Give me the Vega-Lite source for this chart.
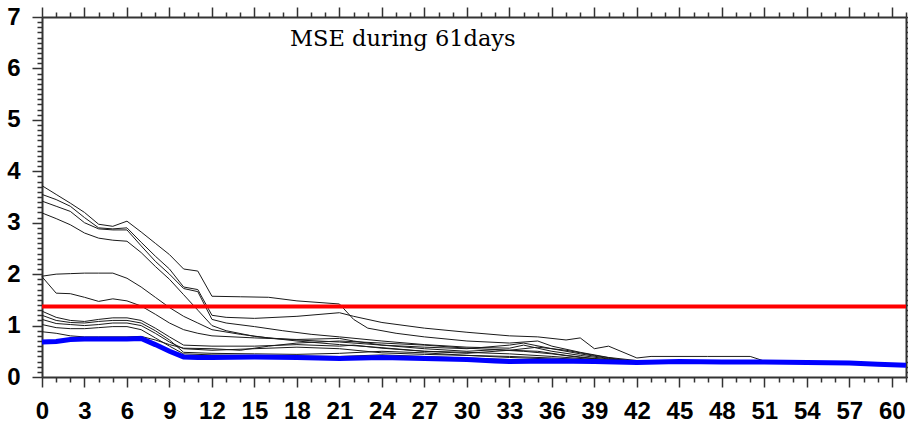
{
  "$schema": "https://vega.github.io/schema/vega-lite/v6.json",
  "width": 864,
  "height": 360,
  "autosize": "none",
  "padding": {"left": 42, "top": 17, "right": 2, "bottom": 49},
  "background": "white",
  "config": {
    "view": {"stroke": null},
    "axis": {
      "grid": false,
      "domainColor": "#333333",
      "domainWidth": 2,
      "tickColor": "#333333",
      "tickWidth": 1.5,
      "labelFont": "Liberation Sans",
      "labelFontWeight": "bold",
      "labelFontSize": 24,
      "labelColor": "#000000",
      "labelOverlap": false,
      "labelFlush": false,
      "labelBound": false,
      "title": null
    }
  },
  "title": {
    "text": "MSE during 61days",
    "font": "DejaVu Serif",
    "fontSize": 22.5,
    "fontWeight": "normal",
    "color": "#000000",
    "anchor": "start",
    "frame": "group",
    "orient": "top",
    "baseline": "alphabetic",
    "dx": 248,
    "offset": -63
  },
  "datasets": {
    "runs": [
      {"run": "r01", "day": 0, "mse": 3.72}, {"run": "r01", "day": 1, "mse": 3.55}, {"run": "r01", "day": 2, "mse": 3.38}, {"run": "r01", "day": 3, "mse": 3.2}, {"run": "r01", "day": 4, "mse": 2.97}, {"run": "r01", "day": 5, "mse": 2.93}, {"run": "r01", "day": 6, "mse": 3.03}, {"run": "r01", "day": 7, "mse": 2.82}, {"run": "r01", "day": 8, "mse": 2.6}, {"run": "r01", "day": 9, "mse": 2.38}, {"run": "r01", "day": 10, "mse": 2.1}, {"run": "r01", "day": 11, "mse": 2.06}, {"run": "r01", "day": 12, "mse": 1.57}, {"run": "r01", "day": 14, "mse": 1.56}, {"run": "r01", "day": 16, "mse": 1.55}, {"run": "r01", "day": 18, "mse": 1.48}, {"run": "r01", "day": 21, "mse": 1.42}, {"run": "r01", "day": 22, "mse": 1.12}, {"run": "r01", "day": 23, "mse": 0.95}, {"run": "r01", "day": 25, "mse": 0.85}, {"run": "r01", "day": 27, "mse": 0.78}, {"run": "r01", "day": 30, "mse": 0.7}, {"run": "r01", "day": 33, "mse": 0.66}, {"run": "r01", "day": 35, "mse": 0.7}, {"run": "r01", "day": 36, "mse": 0.6}, {"run": "r01", "day": 38, "mse": 0.48}, {"run": "r01", "day": 40, "mse": 0.38}, {"run": "r01", "day": 42, "mse": 0.32}, {"run": "r01", "day": 45, "mse": 0.31}, {"run": "r01", "day": 48, "mse": 0.3}, {"run": "r01", "day": 51, "mse": 0.3}, {"run": "r01", "day": 54, "mse": 0.29}, {"run": "r01", "day": 57, "mse": 0.28}, {"run": "r01", "day": 60, "mse": 0.25}, {"run": "r01", "day": 61, "mse": 0.24},

      {"run": "r02", "day": 0, "mse": 3.55}, {"run": "r02", "day": 1, "mse": 3.45}, {"run": "r02", "day": 2, "mse": 3.32}, {"run": "r02", "day": 3, "mse": 3.1}, {"run": "r02", "day": 4, "mse": 2.9}, {"run": "r02", "day": 5, "mse": 2.88}, {"run": "r02", "day": 6, "mse": 2.9}, {"run": "r02", "day": 7, "mse": 2.62}, {"run": "r02", "day": 8, "mse": 2.35}, {"run": "r02", "day": 9, "mse": 2.1}, {"run": "r02", "day": 10, "mse": 1.75}, {"run": "r02", "day": 11, "mse": 1.7}, {"run": "r02", "day": 12, "mse": 1.2}, {"run": "r02", "day": 13, "mse": 1.16}, {"run": "r02", "day": 15, "mse": 1.14}, {"run": "r02", "day": 18, "mse": 1.18}, {"run": "r02", "day": 21, "mse": 1.25}, {"run": "r02", "day": 22, "mse": 1.18}, {"run": "r02", "day": 24, "mse": 1.06}, {"run": "r02", "day": 27, "mse": 0.95}, {"run": "r02", "day": 30, "mse": 0.87}, {"run": "r02", "day": 33, "mse": 0.8}, {"run": "r02", "day": 35, "mse": 0.78}, {"run": "r02", "day": 37, "mse": 0.72}, {"run": "r02", "day": 38, "mse": 0.76}, {"run": "r02", "day": 39, "mse": 0.55}, {"run": "r02", "day": 40, "mse": 0.6}, {"run": "r02", "day": 42, "mse": 0.37}, {"run": "r02", "day": 43, "mse": 0.4}, {"run": "r02", "day": 47, "mse": 0.4}, {"run": "r02", "day": 50, "mse": 0.4}, {"run": "r02", "day": 51, "mse": 0.31}, {"run": "r02", "day": 54, "mse": 0.29}, {"run": "r02", "day": 57, "mse": 0.28}, {"run": "r02", "day": 60, "mse": 0.25}, {"run": "r02", "day": 61, "mse": 0.24},

      {"run": "r03", "day": 0, "mse": 3.42}, {"run": "r03", "day": 1, "mse": 3.32}, {"run": "r03", "day": 2, "mse": 3.22}, {"run": "r03", "day": 3, "mse": 3.0}, {"run": "r03", "day": 4, "mse": 2.88}, {"run": "r03", "day": 5, "mse": 2.86}, {"run": "r03", "day": 6, "mse": 2.86}, {"run": "r03", "day": 7, "mse": 2.55}, {"run": "r03", "day": 8, "mse": 2.25}, {"run": "r03", "day": 9, "mse": 2.0}, {"run": "r03", "day": 10, "mse": 1.72}, {"run": "r03", "day": 11, "mse": 1.66}, {"run": "r03", "day": 12, "mse": 1.12}, {"run": "r03", "day": 13, "mse": 1.05}, {"run": "r03", "day": 15, "mse": 0.98}, {"run": "r03", "day": 17, "mse": 0.9}, {"run": "r03", "day": 19, "mse": 0.83}, {"run": "r03", "day": 21, "mse": 0.78}, {"run": "r03", "day": 24, "mse": 0.7}, {"run": "r03", "day": 27, "mse": 0.63}, {"run": "r03", "day": 30, "mse": 0.58}, {"run": "r03", "day": 33, "mse": 0.56}, {"run": "r03", "day": 34, "mse": 0.62}, {"run": "r03", "day": 36, "mse": 0.5}, {"run": "r03", "day": 38, "mse": 0.42}, {"run": "r03", "day": 40, "mse": 0.35}, {"run": "r03", "day": 42, "mse": 0.31}, {"run": "r03", "day": 45, "mse": 0.31}, {"run": "r03", "day": 48, "mse": 0.3}, {"run": "r03", "day": 51, "mse": 0.3}, {"run": "r03", "day": 54, "mse": 0.29}, {"run": "r03", "day": 57, "mse": 0.28}, {"run": "r03", "day": 60, "mse": 0.25}, {"run": "r03", "day": 61, "mse": 0.24},

      {"run": "r04", "day": 0, "mse": 3.19}, {"run": "r04", "day": 1, "mse": 3.08}, {"run": "r04", "day": 2, "mse": 2.96}, {"run": "r04", "day": 3, "mse": 2.8}, {"run": "r04", "day": 4, "mse": 2.7}, {"run": "r04", "day": 5, "mse": 2.66}, {"run": "r04", "day": 6, "mse": 2.64}, {"run": "r04", "day": 7, "mse": 2.42}, {"run": "r04", "day": 8, "mse": 2.15}, {"run": "r04", "day": 9, "mse": 1.9}, {"run": "r04", "day": 10, "mse": 1.6}, {"run": "r04", "day": 11, "mse": 1.3}, {"run": "r04", "day": 12, "mse": 1.0}, {"run": "r04", "day": 13, "mse": 0.9}, {"run": "r04", "day": 15, "mse": 0.79}, {"run": "r04", "day": 18, "mse": 0.7}, {"run": "r04", "day": 21, "mse": 0.63}, {"run": "r04", "day": 24, "mse": 0.57}, {"run": "r04", "day": 27, "mse": 0.5}, {"run": "r04", "day": 30, "mse": 0.48}, {"run": "r04", "day": 33, "mse": 0.45}, {"run": "r04", "day": 36, "mse": 0.4}, {"run": "r04", "day": 39, "mse": 0.34}, {"run": "r04", "day": 42, "mse": 0.3}, {"run": "r04", "day": 45, "mse": 0.31}, {"run": "r04", "day": 48, "mse": 0.3}, {"run": "r04", "day": 51, "mse": 0.3}, {"run": "r04", "day": 54, "mse": 0.29}, {"run": "r04", "day": 57, "mse": 0.28}, {"run": "r04", "day": 60, "mse": 0.25}, {"run": "r04", "day": 61, "mse": 0.24},

      {"run": "r05", "day": 0, "mse": 1.96}, {"run": "r05", "day": 1, "mse": 2.0}, {"run": "r05", "day": 2, "mse": 2.01}, {"run": "r05", "day": 3, "mse": 2.02}, {"run": "r05", "day": 4, "mse": 2.02}, {"run": "r05", "day": 5, "mse": 2.02}, {"run": "r05", "day": 6, "mse": 1.92}, {"run": "r05", "day": 7, "mse": 1.75}, {"run": "r05", "day": 8, "mse": 1.55}, {"run": "r05", "day": 9, "mse": 1.35}, {"run": "r05", "day": 10, "mse": 1.18}, {"run": "r05", "day": 11, "mse": 1.05}, {"run": "r05", "day": 12, "mse": 0.92}, {"run": "r05", "day": 14, "mse": 0.83}, {"run": "r05", "day": 16, "mse": 0.76}, {"run": "r05", "day": 18, "mse": 0.72}, {"run": "r05", "day": 21, "mse": 0.68}, {"run": "r05", "day": 24, "mse": 0.62}, {"run": "r05", "day": 27, "mse": 0.58}, {"run": "r05", "day": 30, "mse": 0.55}, {"run": "r05", "day": 33, "mse": 0.62}, {"run": "r05", "day": 34, "mse": 0.66}, {"run": "r05", "day": 36, "mse": 0.55}, {"run": "r05", "day": 38, "mse": 0.45}, {"run": "r05", "day": 40, "mse": 0.36}, {"run": "r05", "day": 42, "mse": 0.3}, {"run": "r05", "day": 45, "mse": 0.31}, {"run": "r05", "day": 48, "mse": 0.3}, {"run": "r05", "day": 51, "mse": 0.3}, {"run": "r05", "day": 54, "mse": 0.29}, {"run": "r05", "day": 57, "mse": 0.28}, {"run": "r05", "day": 60, "mse": 0.25}, {"run": "r05", "day": 61, "mse": 0.24},

      {"run": "r06", "day": 0, "mse": 1.95}, {"run": "r06", "day": 1, "mse": 1.63}, {"run": "r06", "day": 2, "mse": 1.62}, {"run": "r06", "day": 3, "mse": 1.55}, {"run": "r06", "day": 4, "mse": 1.47}, {"run": "r06", "day": 5, "mse": 1.52}, {"run": "r06", "day": 6, "mse": 1.48}, {"run": "r06", "day": 7, "mse": 1.38}, {"run": "r06", "day": 8, "mse": 1.22}, {"run": "r06", "day": 9, "mse": 1.05}, {"run": "r06", "day": 10, "mse": 0.92}, {"run": "r06", "day": 11, "mse": 0.85}, {"run": "r06", "day": 12, "mse": 0.8}, {"run": "r06", "day": 15, "mse": 0.76}, {"run": "r06", "day": 18, "mse": 0.73}, {"run": "r06", "day": 21, "mse": 0.75}, {"run": "r06", "day": 22, "mse": 0.7}, {"run": "r06", "day": 24, "mse": 0.62}, {"run": "r06", "day": 27, "mse": 0.55}, {"run": "r06", "day": 30, "mse": 0.5}, {"run": "r06", "day": 32, "mse": 0.53}, {"run": "r06", "day": 34, "mse": 0.5}, {"run": "r06", "day": 36, "mse": 0.45}, {"run": "r06", "day": 38, "mse": 0.38}, {"run": "r06", "day": 40, "mse": 0.33}, {"run": "r06", "day": 42, "mse": 0.3}, {"run": "r06", "day": 45, "mse": 0.31}, {"run": "r06", "day": 48, "mse": 0.3}, {"run": "r06", "day": 51, "mse": 0.3}, {"run": "r06", "day": 54, "mse": 0.29}, {"run": "r06", "day": 57, "mse": 0.28}, {"run": "r06", "day": 60, "mse": 0.25}, {"run": "r06", "day": 61, "mse": 0.24},

      {"run": "r07", "day": 0, "mse": 1.28}, {"run": "r07", "day": 1, "mse": 1.16}, {"run": "r07", "day": 2, "mse": 1.1}, {"run": "r07", "day": 3, "mse": 1.08}, {"run": "r07", "day": 4, "mse": 1.12}, {"run": "r07", "day": 5, "mse": 1.15}, {"run": "r07", "day": 6, "mse": 1.15}, {"run": "r07", "day": 7, "mse": 1.1}, {"run": "r07", "day": 8, "mse": 0.95}, {"run": "r07", "day": 9, "mse": 0.78}, {"run": "r07", "day": 10, "mse": 0.62}, {"run": "r07", "day": 12, "mse": 0.6}, {"run": "r07", "day": 15, "mse": 0.6}, {"run": "r07", "day": 18, "mse": 0.63}, {"run": "r07", "day": 21, "mse": 0.6}, {"run": "r07", "day": 22, "mse": 0.62}, {"run": "r07", "day": 24, "mse": 0.56}, {"run": "r07", "day": 27, "mse": 0.5}, {"run": "r07", "day": 30, "mse": 0.46}, {"run": "r07", "day": 33, "mse": 0.52}, {"run": "r07", "day": 35, "mse": 0.5}, {"run": "r07", "day": 37, "mse": 0.42}, {"run": "r07", "day": 39, "mse": 0.36}, {"run": "r07", "day": 42, "mse": 0.3}, {"run": "r07", "day": 45, "mse": 0.31}, {"run": "r07", "day": 48, "mse": 0.3}, {"run": "r07", "day": 51, "mse": 0.3}, {"run": "r07", "day": 54, "mse": 0.29}, {"run": "r07", "day": 57, "mse": 0.28}, {"run": "r07", "day": 60, "mse": 0.25}, {"run": "r07", "day": 61, "mse": 0.24},

      {"run": "r08", "day": 0, "mse": 1.2}, {"run": "r08", "day": 1, "mse": 1.1}, {"run": "r08", "day": 2, "mse": 1.06}, {"run": "r08", "day": 3, "mse": 1.05}, {"run": "r08", "day": 4, "mse": 1.08}, {"run": "r08", "day": 5, "mse": 1.1}, {"run": "r08", "day": 6, "mse": 1.1}, {"run": "r08", "day": 7, "mse": 1.05}, {"run": "r08", "day": 8, "mse": 0.9}, {"run": "r08", "day": 9, "mse": 0.72}, {"run": "r08", "day": 10, "mse": 0.48}, {"run": "r08", "day": 12, "mse": 0.46}, {"run": "r08", "day": 15, "mse": 0.45}, {"run": "r08", "day": 18, "mse": 0.44}, {"run": "r08", "day": 21, "mse": 0.46}, {"run": "r08", "day": 24, "mse": 0.5}, {"run": "r08", "day": 27, "mse": 0.47}, {"run": "r08", "day": 30, "mse": 0.42}, {"run": "r08", "day": 33, "mse": 0.4}, {"run": "r08", "day": 36, "mse": 0.37}, {"run": "r08", "day": 39, "mse": 0.33}, {"run": "r08", "day": 42, "mse": 0.29}, {"run": "r08", "day": 45, "mse": 0.31}, {"run": "r08", "day": 48, "mse": 0.3}, {"run": "r08", "day": 51, "mse": 0.3}, {"run": "r08", "day": 54, "mse": 0.29}, {"run": "r08", "day": 57, "mse": 0.28}, {"run": "r08", "day": 60, "mse": 0.25}, {"run": "r08", "day": 61, "mse": 0.24},

      {"run": "r09", "day": 0, "mse": 1.12}, {"run": "r09", "day": 1, "mse": 1.04}, {"run": "r09", "day": 2, "mse": 1.02}, {"run": "r09", "day": 3, "mse": 1.0}, {"run": "r09", "day": 4, "mse": 1.02}, {"run": "r09", "day": 5, "mse": 1.05}, {"run": "r09", "day": 6, "mse": 1.05}, {"run": "r09", "day": 7, "mse": 1.0}, {"run": "r09", "day": 8, "mse": 0.85}, {"run": "r09", "day": 9, "mse": 0.68}, {"run": "r09", "day": 10, "mse": 0.55}, {"run": "r09", "day": 12, "mse": 0.52}, {"run": "r09", "day": 15, "mse": 0.55}, {"run": "r09", "day": 18, "mse": 0.58}, {"run": "r09", "day": 21, "mse": 0.55}, {"run": "r09", "day": 24, "mse": 0.47}, {"run": "r09", "day": 27, "mse": 0.44}, {"run": "r09", "day": 30, "mse": 0.42}, {"run": "r09", "day": 33, "mse": 0.38}, {"run": "r09", "day": 36, "mse": 0.35}, {"run": "r09", "day": 39, "mse": 0.31}, {"run": "r09", "day": 42, "mse": 0.29}, {"run": "r09", "day": 45, "mse": 0.31}, {"run": "r09", "day": 48, "mse": 0.3}, {"run": "r09", "day": 51, "mse": 0.3}, {"run": "r09", "day": 54, "mse": 0.29}, {"run": "r09", "day": 57, "mse": 0.28}, {"run": "r09", "day": 60, "mse": 0.25}, {"run": "r09", "day": 61, "mse": 0.24},

      {"run": "r10", "day": 0, "mse": 1.02}, {"run": "r10", "day": 1, "mse": 0.96}, {"run": "r10", "day": 2, "mse": 0.94}, {"run": "r10", "day": 3, "mse": 0.94}, {"run": "r10", "day": 4, "mse": 0.96}, {"run": "r10", "day": 5, "mse": 0.98}, {"run": "r10", "day": 6, "mse": 0.98}, {"run": "r10", "day": 7, "mse": 0.92}, {"run": "r10", "day": 8, "mse": 0.76}, {"run": "r10", "day": 9, "mse": 0.6}, {"run": "r10", "day": 10, "mse": 0.45}, {"run": "r10", "day": 12, "mse": 0.43}, {"run": "r10", "day": 15, "mse": 0.42}, {"run": "r10", "day": 18, "mse": 0.41}, {"run": "r10", "day": 21, "mse": 0.4}, {"run": "r10", "day": 24, "mse": 0.43}, {"run": "r10", "day": 27, "mse": 0.4}, {"run": "r10", "day": 30, "mse": 0.37}, {"run": "r10", "day": 33, "mse": 0.34}, {"run": "r10", "day": 36, "mse": 0.32}, {"run": "r10", "day": 39, "mse": 0.3}, {"run": "r10", "day": 42, "mse": 0.29}, {"run": "r10", "day": 45, "mse": 0.31}, {"run": "r10", "day": 48, "mse": 0.3}, {"run": "r10", "day": 51, "mse": 0.3}, {"run": "r10", "day": 54, "mse": 0.29}, {"run": "r10", "day": 57, "mse": 0.28}, {"run": "r10", "day": 60, "mse": 0.25}, {"run": "r10", "day": 61, "mse": 0.24},

      {"run": "r11", "day": 0, "mse": 0.88}, {"run": "r11", "day": 1, "mse": 0.85}, {"run": "r11", "day": 2, "mse": 0.8}, {"run": "r11", "day": 3, "mse": 0.78}, {"run": "r11", "day": 4, "mse": 0.78}, {"run": "r11", "day": 6, "mse": 0.78}, {"run": "r11", "day": 7, "mse": 0.79}, {"run": "r11", "day": 8, "mse": 0.72}, {"run": "r11", "day": 9, "mse": 0.63}, {"run": "r11", "day": 10, "mse": 0.56}, {"run": "r11", "day": 12, "mse": 0.55}, {"run": "r11", "day": 14, "mse": 0.52}, {"run": "r11", "day": 16, "mse": 0.6}, {"run": "r11", "day": 18, "mse": 0.66}, {"run": "r11", "day": 21, "mse": 0.7}, {"run": "r11", "day": 24, "mse": 0.66}, {"run": "r11", "day": 27, "mse": 0.62}, {"run": "r11", "day": 30, "mse": 0.56}, {"run": "r11", "day": 33, "mse": 0.52}, {"run": "r11", "day": 35, "mse": 0.58}, {"run": "r11", "day": 37, "mse": 0.52}, {"run": "r11", "day": 39, "mse": 0.42}, {"run": "r11", "day": 41, "mse": 0.33}, {"run": "r11", "day": 42, "mse": 0.3}, {"run": "r11", "day": 45, "mse": 0.31}, {"run": "r11", "day": 48, "mse": 0.3}, {"run": "r11", "day": 51, "mse": 0.3}, {"run": "r11", "day": 54, "mse": 0.29}, {"run": "r11", "day": 57, "mse": 0.28}, {"run": "r11", "day": 60, "mse": 0.25}, {"run": "r11", "day": 61, "mse": 0.24}
    ],
    "best": [
      {"day": 0, "mse": 0.68}, {"day": 1, "mse": 0.69}, {"day": 2, "mse": 0.73}, {"day": 3, "mse": 0.74}, {"day": 4, "mse": 0.74}, {"day": 5, "mse": 0.74}, {"day": 6, "mse": 0.74}, {"day": 7, "mse": 0.75}, {"day": 8, "mse": 0.63}, {"day": 9, "mse": 0.5}, {"day": 10, "mse": 0.39}, {"day": 11, "mse": 0.38}, {"day": 12, "mse": 0.38}, {"day": 15, "mse": 0.39}, {"day": 18, "mse": 0.38}, {"day": 21, "mse": 0.36}, {"day": 24, "mse": 0.38}, {"day": 27, "mse": 0.36}, {"day": 30, "mse": 0.34}, {"day": 32, "mse": 0.31}, {"day": 33, "mse": 0.3}, {"day": 36, "mse": 0.31}, {"day": 39, "mse": 0.3}, {"day": 42, "mse": 0.28}, {"day": 45, "mse": 0.3}, {"day": 48, "mse": 0.29}, {"day": 51, "mse": 0.29}, {"day": 54, "mse": 0.28}, {"day": 57, "mse": 0.27}, {"day": 59, "mse": 0.25}, {"day": 60, "mse": 0.24}, {"day": 61, "mse": 0.23}
    ],
    "threshold": [{"mse": 1.37}]
  },
  "resolve": {"axis": {"x": "independent", "y": "independent"}},
  "layer": [
    {
      "data": {"name": "runs"},
      "mark": {"type": "line", "color": "#1a1a1a", "strokeWidth": 1, "interpolate": "linear"},
      "encoding": {
        "x": {
          "field": "day", "type": "quantitative",
          "scale": {"domain": [0, 61], "nice": false, "zero": false},
          "axis": {
            "orient": "bottom",
            "values": [0,1,2,3,4,5,6,7,8,9,10,11,12,13,14,15,16,17,18,19,20,21,22,23,24,25,26,27,28,29,30,31,32,33,34,35,36,37,38,39,40,41,42,43,44,45,46,47,48,49,50,51,52,53,54,55,56,57,58,59,60,61],
            "tickSize": {"condition": {"test": "datum.value % 3 === 0", "value": 10}, "value": 5},
            "labelExpr": "datum.value % 3 === 0 ? datum.label : ''",
            "labelPadding": 12
          }
        },
        "y": {
          "field": "mse", "type": "quantitative",
          "scale": {"domain": [0, 7], "nice": false},
          "axis": {
            "orient": "left",
            "values": [0,0.1,0.2,0.3,0.4,0.5,0.6,0.7,0.8,0.9,1,1.1,1.2,1.3,1.4,1.5,1.6,1.7,1.8,1.9,2,2.1,2.2,2.3,2.4,2.5,2.6,2.7,2.8,2.9,3,3.1,3.2,3.3,3.4,3.5,3.6,3.7,3.8,3.9,4,4.1,4.2,4.3,4.4,4.5,4.6,4.7,4.8,4.9,5,5.1,5.2,5.3,5.4,5.5,5.6,5.7,5.8,5.9,6,6.1,6.2,6.3,6.4,6.5,6.6,6.7,6.8,6.9,7],
            "tickSize": {"condition": {"test": "abs(datum.value - round(datum.value)) < 0.001", "value": 10}, "value": 5},
            "labelExpr": "abs(datum.value - round(datum.value)) < 0.001 ? format(round(datum.value), 'd') : ''",
            "labelPadding": 12
          }
        },
        "detail": {"field": "run"}
      }
    },
    {
      "data": {"name": "threshold"},
      "mark": {"type": "rule", "color": "#ff0000", "strokeWidth": 4},
      "encoding": {
        "y": {"field": "mse", "type": "quantitative", "axis": null}
      }
    },
    {
      "data": {"name": "best"},
      "mark": {"type": "line", "color": "#0000ff", "strokeWidth": 5, "interpolate": "linear"},
      "encoding": {
        "x": {
          "field": "day", "type": "quantitative",
          "axis": {
            "orient": "top",
            "values": [0,1,2,3,4,5,6,7,8,9,10,11,12,13,14,15,16,17,18,19,20,21,22,23,24,25,26,27,28,29,30,31,32,33,34,35,36,37,38,39,40,41,42,43,44,45,46,47,48,49,50,51,52,53,54,55,56,57,58,59,60,61],
            "tickSize": {"condition": {"test": "datum.value % 3 === 0", "value": 10}, "value": 5},
            "labels": false
          }
        },
        "y": {
          "field": "mse", "type": "quantitative",
          "axis": {
            "orient": "right",
            "values": [0,0.1,0.2,0.3,0.4,0.5,0.6,0.7,0.8,0.9,1,1.1,1.2,1.3,1.4,1.5,1.6,1.7,1.8,1.9,2,2.1,2.2,2.3,2.4,2.5,2.6,2.7,2.8,2.9,3,3.1,3.2,3.3,3.4,3.5,3.6,3.7,3.8,3.9,4,4.1,4.2,4.3,4.4,4.5,4.6,4.7,4.8,4.9,5,5.1,5.2,5.3,5.4,5.5,5.6,5.7,5.8,5.9,6,6.1,6.2,6.3,6.4,6.5,6.6,6.7,6.8,6.9,7],
            "tickSize": {"condition": {"test": "abs(datum.value - round(datum.value)) < 0.001", "value": 10}, "value": 5},
            "labels": false
          }
        }
      }
    }
  ]
}
